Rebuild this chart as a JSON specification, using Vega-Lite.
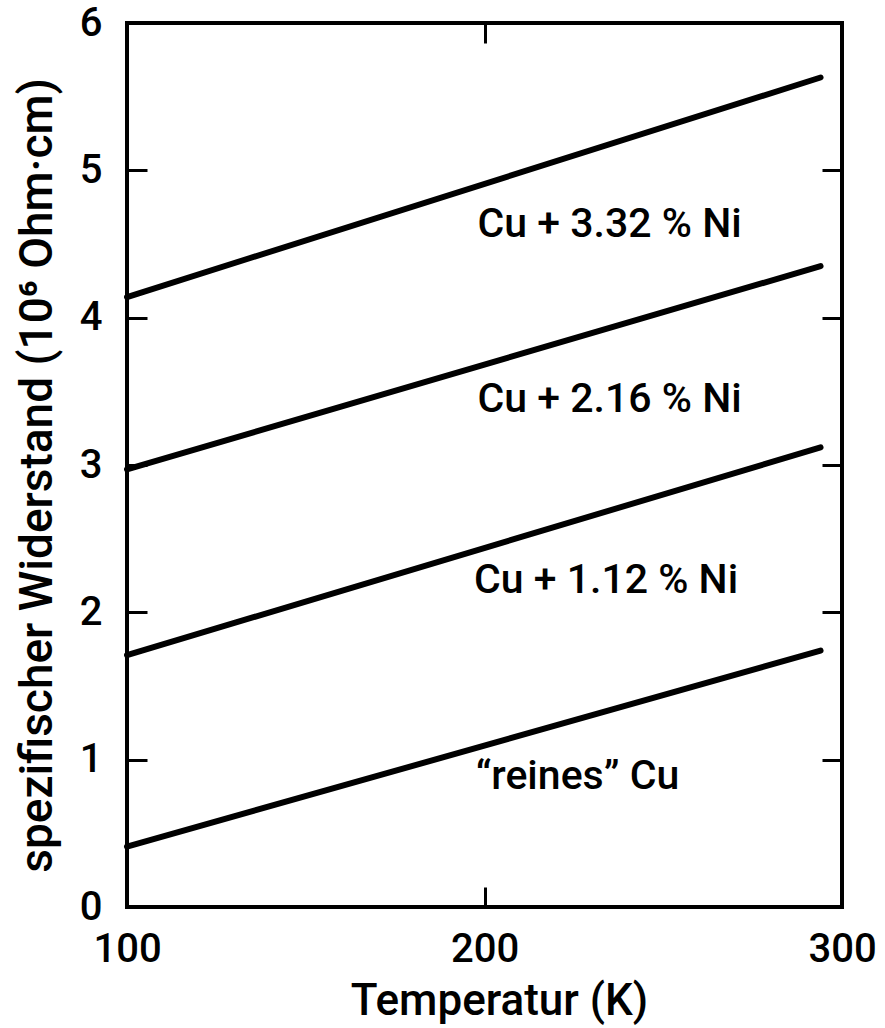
{
  "$schema": "https://vega.github.io/schema/vega-lite/v6.json",
  "autosize": "none",
  "width": 715,
  "height": 884,
  "padding": {"left": 127, "top": 23, "right": 43, "bottom": 121},
  "background": "white",
  "config": {
    "view": {"stroke": "black", "strokeWidth": 4},
    "font": "Roboto",
    "axis": {
      "domain": false,
      "grid": false,
      "ticks": true,
      "tickColor": "black",
      "tickWidth": 3,
      "tickSize": -20,
      "labelColor": "black",
      "labelFont": "Roboto",
      "labelFontWeight": 500,
      "labelFontSize": 40,
      "titleColor": "black",
      "titleFont": "Roboto",
      "titleFontWeight": 500,
      "titleFontSize": 40
    }
  },
  "datasets": {
    "lines": [
      {"series": "reines", "T": 100, "rho": 0.41},
      {"series": "reines", "T": 294, "rho": 1.74},
      {"series": "Ni1.12", "T": 100, "rho": 1.71},
      {"series": "Ni1.12", "T": 294, "rho": 3.12},
      {"series": "Ni2.16", "T": 100, "rho": 2.97},
      {"series": "Ni2.16", "T": 294, "rho": 4.35},
      {"series": "Ni3.32", "T": 100, "rho": 4.14},
      {"series": "Ni3.32", "T": 294, "rho": 5.63}
    ],
    "labels": [
      {"label": "Cu + 3.32 % Ni", "T": 235, "rho": 4.63},
      {"label": "Cu + 2.16 % Ni", "T": 235, "rho": 3.44},
      {"label": "Cu + 1.12 % Ni", "T": 234, "rho": 2.21},
      {"label": "“reines” Cu", "T": 226, "rho": 0.88}
    ]
  },
  "layer": [
    {
      "data": {"name": "lines"},
      "mark": {"type": "line", "color": "black", "strokeWidth": 6, "strokeCap": "round"},
      "encoding": {
        "x": {
          "field": "T", "type": "quantitative",
          "scale": {"domain": [100, 300], "nice": false, "zero": false},
          "axis": {
            "orient": "bottom", "values": [100, 200, 300], "labelPadding": 42, "labelFlush": false,
            "title": "Temperatur  (K)", "titleX": 372, "titleY": 94, "titleBaseline": "middle", "titleAnchor": null,
            "titleFontSize": 44
          }
        },
        "y": {
          "field": "rho", "type": "quantitative",
          "scale": {"domain": [0, 6], "nice": false},
          "axis": {
            "orient": "left", "values": [0, 1, 2, 3, 4, 5, 6], "labelPadding": 45, "labelFlush": false,
            "title": "spezifischer Widerstand (10⁶ Ohm·cm)", "titleX": -90, "titleY": 452,
            "titleAngle": -90, "titleBaseline": "middle", "titleAnchor": null, "titleAlign": "center",
            "titleFontSize": 46
          }
        },
        "detail": {"field": "series", "type": "nominal"}
      }
    },
    {
      "data": {"name": "labels"},
      "mark": {"type": "text", "color": "black", "font": "Roboto", "fontWeight": 500, "fontSize": 41, "align": "center", "baseline": "middle"},
      "encoding": {
        "x": {
          "field": "T", "type": "quantitative",
          "axis": {"orient": "top", "values": [100, 200, 300], "labels": false, "title": null}
        },
        "y": {
          "field": "rho", "type": "quantitative",
          "axis": {"orient": "right", "values": [0, 1, 2, 3, 4, 5, 6], "labels": false, "title": null}
        },
        "text": {"field": "label", "type": "nominal"}
      }
    }
  ]
}
